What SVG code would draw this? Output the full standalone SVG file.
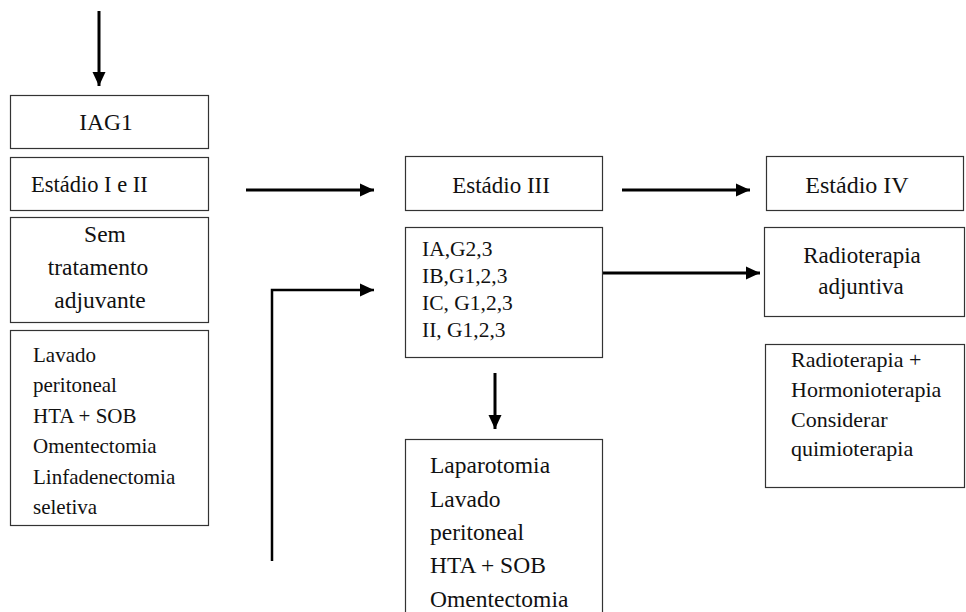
<svg xmlns="http://www.w3.org/2000/svg" width="966" height="612" viewBox="0 0 966 612">
<style>
.box{fill:#fff;stroke:#333;stroke-width:1.2}
.t{font-family:'Liberation Serif','DejaVu Serif','Times New Roman',serif;font-size:21px;fill:#111}
.c{text-anchor:middle}
.conn{stroke:#000;stroke-width:3;fill:none}
</style>
<defs>
<marker id="ah" markerUnits="userSpaceOnUse" markerWidth="14" markerHeight="14" refX="14" refY="7" orient="auto">
<path d="M0,0.5 L14,7 L0,13.5 Z" fill="#000"/>
</marker>
</defs>
<rect width="966" height="612" fill="#fff"/>
<g id="connectors">
<line class="conn" x1="99" y1="11" x2="99" y2="86" marker-end="url(#ah)"/>
<line class="conn" x1="246" y1="190" x2="374" y2="190" marker-end="url(#ah)"/>
<line class="conn" x1="622" y1="190" x2="750" y2="190" marker-end="url(#ah)"/>
<polyline class="conn" points="272,561 272,290 374,290" marker-end="url(#ah)" style="stroke-width:2.5"/>
<line class="conn" x1="603" y1="273" x2="760" y2="273" marker-end="url(#ah)"/>
<line class="conn" x1="495" y1="373" x2="495" y2="429" marker-end="url(#ah)"/>
</g>
<g id="iag1">
<rect class="box" x="10.5" y="95.5" width="198" height="53"/>
<text class="t c" x="106" y="130" style="font-size:23.5px">IAG1</text>
</g>
<g id="estadio12">
<rect class="box" x="10.5" y="157.5" width="198" height="53"/>
<text class="t" x="31" y="192" style="font-size:22.5px">Estádio I e II</text>
</g>
<g id="sem">
<rect class="box" x="10.5" y="217.5" width="198" height="105"/>
<text class="t c" x="105" y="242" style="font-size:23.5px">Sem</text>
<text class="t c" x="98" y="275" style="font-size:23.5px">tratamento</text>
<text class="t c" x="100" y="308" style="font-size:23.5px">adjuvante</text>
</g>
<g id="lavado">
<rect class="box" x="10.5" y="330.5" width="198" height="195"/>
<text class="t" x="33" y="362">Lavado</text>
<text class="t" x="33" y="392">peritoneal</text>
<text class="t" x="33" y="423">HTA + SOB</text>
<text class="t" x="33" y="453">Omentectomia</text>
<text class="t" x="33" y="484">Linfadenectomia</text>
<text class="t" x="33" y="514">seletiva</text>
</g>
<g id="estadio3">
<rect class="box" x="405.5" y="156.5" width="197" height="54"/>
<text class="t c" x="501" y="193" style="font-size:23px">Estádio III</text>
</g>
<g id="ia">
<rect class="box" x="405.5" y="227.5" width="197" height="130"/>
<text class="t" x="422" y="256" style="font-size:21.5px">IA,G2,3</text>
<text class="t" x="422" y="283" style="font-size:21.5px">IB,G1,2,3</text>
<text class="t" x="422" y="310" style="font-size:21.5px">IC, G1,2,3</text>
<text class="t" x="422" y="337" style="font-size:21.5px">II, G1,2,3</text>
</g>
<g id="laparotomia">
<rect class="box" x="405.5" y="439.5" width="197" height="190"/>
<text class="t" x="430" y="473" style="font-size:23.5px">Laparotomia</text>
<text class="t" x="430" y="507" style="font-size:23.5px">Lavado</text>
<text class="t" x="430" y="540" style="font-size:23.5px">peritoneal</text>
<text class="t" x="430" y="573" style="font-size:23.5px">HTA + SOB</text>
<text class="t" x="430" y="607" style="font-size:23.5px">Omentectomia</text>
</g>
<g id="estadio4">
<rect class="box" x="766.5" y="156.5" width="197" height="54"/>
<text class="t c" x="857" y="193" style="font-size:24px">Estádio IV</text>
</g>
<g id="radio">
<rect class="box" x="764.5" y="227.5" width="200" height="89"/>
<text class="t c" x="862" y="263" style="font-size:23px">Radioterapia</text>
<text class="t c" x="861" y="294" style="font-size:23px">adjuntiva</text>
</g>
<g id="radiohormo">
<rect class="box" x="765.5" y="344.5" width="199" height="143"/>
<text class="t" x="791" y="367" style="font-size:22px">Radioterapia +</text>
<text class="t" x="791" y="397" style="font-size:22px">Hormonioterapia</text>
<text class="t" x="791" y="427" style="font-size:22px">Considerar</text>
<text class="t" x="791" y="456" style="font-size:22px">quimioterapia</text>
</g>
</svg>
